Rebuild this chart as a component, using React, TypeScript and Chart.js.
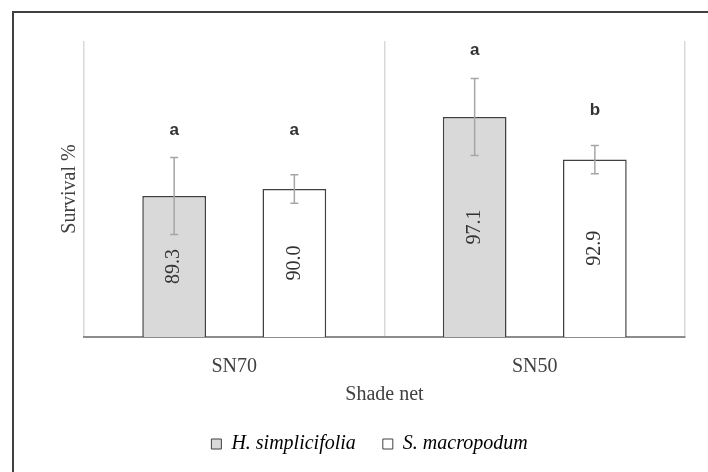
import React, { useEffect, useRef } from "react";
import { Chart, registerables } from "chart.js";

Chart.register(...registerables);

const categories = ["SN70", "SN50"];
const seriesNames = ["H. simplicifolia", "S. macropodum"];
const hValues = [89.3, 97.1];
const sValues = [90.0, 92.9];
const hErrors = [3.8, 3.8];
const sErrors = [1.4, 1.4];
const hLetters = ["a", "a"];
const sLetters = ["a", "b"];
const hLetterY = [95.8, 103.7];
const sLetterY = [95.8, 97.8];
const yMin = 75.4;
const yMax = 104.6;

const SERIF = "'Liberation Serif', 'Times New Roman', serif";
const SANS = "'Liberation Sans', Arial, sans-serif";
const TEXT = "#404040";

const errors = [hErrors, sErrors];
const letters = [hLetters, sLetters];
const letterYs = [hLetterY, sLetterY];

const annotPlugin = {
  id: "annot",
  afterDatasetsDraw(chart: any) {
    const ctx = chart.ctx;
    const yScale = chart.scales.y;
    const basePx = yScale.getPixelForValue(yMin);
    chart.data.datasets.forEach((ds: any, di: number) => {
      const meta = chart.getDatasetMeta(di);
      meta.data.forEach((el: any, i: number) => {
        const v = ds.data[i];
        const e = errors[di][i];
        const x = el.x;
        const yt = yScale.getPixelForValue(v + e);
        const yb = yScale.getPixelForValue(v - e);
        const yv = yScale.getPixelForValue(v);
        ctx.save();
        ctx.strokeStyle = "#a6a6a6";
        ctx.lineWidth = 1.5;
        ctx.beginPath();
        ctx.moveTo(x, yt);
        ctx.lineTo(x, yb);
        ctx.moveTo(x - 4, yt);
        ctx.lineTo(x + 4, yt);
        ctx.moveTo(x - 4, yb);
        ctx.lineTo(x + 4, yb);
        ctx.stroke();
        ctx.restore();

        // value label rotated
        ctx.save();
        ctx.fillStyle = "#333333";
        ctx.font = `20px ${SERIF}`;
        ctx.textAlign = "center";
        ctx.textBaseline = "middle";
        ctx.translate(x, (yv + basePx) / 2);
        ctx.rotate(-Math.PI / 2);
        ctx.fillText(v.toFixed(1), 0, 0);
        ctx.restore();

        // significance letter
        ctx.save();
        ctx.fillStyle = "#333333";
        ctx.font = `bold 17px ${SANS}`;
        ctx.textAlign = "center";
        ctx.textBaseline = "middle";
        ctx.fillText(letters[di][i], x, yScale.getPixelForValue(letterYs[di][i]));
        ctx.restore();
      });
    });
  },
};

export default function App() {
  const ref = useRef<HTMLCanvasElement>(null);
  useEffect(() => {
    if (!ref.current) return;
    const fills = ["#d9d9d9", "#ffffff"];
    const chart = new Chart(ref.current, {
      type: "bar",
      data: {
        labels: categories,
        datasets: [
          {
            label: seriesNames[0],
            data: hValues,
            backgroundColor: fills[0],
            borderColor: "#404040",
            borderWidth: 1.5,
            categoryPercentage: 0.8,
            barPercentage: 0.53,
          },
          {
            label: seriesNames[1],
            data: sValues,
            backgroundColor: fills[1],
            borderColor: "#404040",
            borderWidth: 1.5,
            categoryPercentage: 0.8,
            barPercentage: 0.53,
          },
        ],
      },
      options: {
        animation: false,
        responsive: false,
        devicePixelRatio: 1,
        layout: { padding: { left: 54, right: 23, top: 41, bottom: 8 } },
        plugins: {
          tooltip: { enabled: false },
          legend: {
            position: "bottom",
            labels: {
              boxWidth: 10,
              boxHeight: 10,
              padding: 27,
              color: TEXT,
              font: { family: SERIF, size: 20, style: "italic" },
              generateLabels: () =>
                seriesNames.map((n, i) => ({
                  text: n,
                  fillStyle: fills[i],
                  strokeStyle: "#404040",
                  lineWidth: 1,
                  hidden: false,
                  datasetIndex: i,
                })),
            },
          },
        },
        scales: {
          x: {
            grid: { color: "#d9d9d9", lineWidth: 1.5, drawTicks: false, offset: true },
            border: { color: "#8c8c8c", width: 2 },
            ticks: { color: TEXT, padding: 18, font: { family: SERIF, size: 20 } },
            title: {
              display: true,
              text: "Shade net",
              color: TEXT,
              padding: { top: -14, bottom: 0 },
              font: { family: SERIF, size: 20 },
            },
          },
          y: {
            min: yMin,
            max: yMax,
            grid: { display: false, drawTicks: false },
            border: { display: false },
            ticks: { display: false },
            title: {
              display: true,
              text: "Survival %",
              color: TEXT,
              padding: { top: 4, bottom: 2 },
              font: { family: SERIF, size: 20 },
            },
          },
        },
      },
      plugins: [annotPlugin],
    });
    return () => chart.destroy();
  }, []);

  return (
    <div style={{ position: "fixed", left: 0, top: 0, width: 708, height: 472, background: "#fff", overflow: "hidden" }}>
      <canvas ref={ref} width={708} height={472} style={{ position: "absolute", left: 0, top: 0 }} />
      <div
        style={{
          position: "absolute",
          left: 12,
          top: 11,
          width: 720,
          height: 480,
          borderLeft: "2px solid #404040",
          borderTop: "2px solid #404040",
          pointerEvents: "none",
        }}
      />
    </div>
  );
}
